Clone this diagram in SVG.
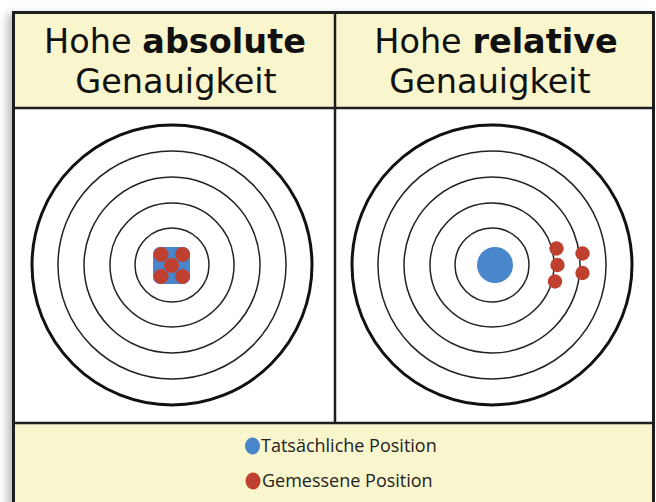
<svg xmlns="http://www.w3.org/2000/svg" width="656" height="502" viewBox="0 0 656 502">
<style>
.bg{fill:#ffffff}
.pale{fill:#f9f6cd}
.frame{fill:none;stroke:#1e1e1e;stroke-width:3}
.div{stroke:#1e1e1e;stroke-width:2.5}
.ring{fill:none;stroke:#222;stroke-width:1.5}
.outer{fill:none;stroke:#111;stroke-width:3}
.red{fill:#c0402f}
.blue{fill:#4a86cc}
.h{font-family:"DejaVu Sans","Open Sans",sans-serif;font-size:33.5px;fill:#111;text-anchor:middle}
.b{font-weight:bold}
.leg{font-family:"Open Sans","Noto Sans",sans-serif;font-size:18px;fill:#222}
</style>
<defs>
<filter id="sh" x="-5%" y="-5%" width="110%" height="110%"><feGaussianBlur stdDeviation="4"/></filter>
</defs>
<rect width="656" height="502" fill="#ffffff"/>
<rect x="7" y="14" width="640" height="500" fill="#000" opacity="0.25" filter="url(#sh)"/>
<g id="header-left">
<rect x="13" y="12" width="322" height="96" class="pale"/>
<text x="175" y="53" class="h">Hohe <tspan class="b">absolute</tspan></text>
<text x="176" y="93" class="h">Genauigkeit</text>
</g>
<g id="header-right">
<rect x="335" y="12" width="320" height="96" class="pale"/>
<text x="496" y="53" class="h">Hohe <tspan class="b">relative</tspan></text>
<text x="490" y="93" class="h">Genauigkeit</text>
</g>
<g id="target-left">
<rect x="13" y="108" width="322" height="315" class="bg"/>
<circle cx="172" cy="265" r="140" class="outer"/>
<circle cx="172" cy="265" r="114" class="ring"/>
<circle cx="172" cy="265" r="88" class="ring"/>
<circle cx="172" cy="265" r="62" class="ring"/>
<circle cx="172" cy="265" r="37" class="ring"/>
<rect x="153" y="247" width="37" height="37" rx="7" class="blue"/>
<circle cx="161" cy="254.5" r="7.5" class="red"/>
<circle cx="182.5" cy="254.5" r="7.5" class="red"/>
<circle cx="171.5" cy="265.5" r="7.5" class="red"/>
<circle cx="161" cy="276.5" r="7.5" class="red"/>
<circle cx="182.5" cy="276.5" r="7.5" class="red"/>
</g>
<g id="target-right">
<rect x="335" y="108" width="320" height="315" class="bg"/>
<circle cx="492" cy="265" r="140" class="outer"/>
<circle cx="492" cy="265" r="114" class="ring"/>
<circle cx="492" cy="265" r="88" class="ring"/>
<circle cx="492" cy="265" r="62" class="ring"/>
<circle cx="492" cy="265" r="37" class="ring"/>
<circle cx="495" cy="265" r="18" class="blue"/>
<circle cx="556.5" cy="248.5" r="7.2" class="red"/>
<circle cx="557.5" cy="265" r="7.2" class="red"/>
<circle cx="555" cy="281.5" r="7.2" class="red"/>
<circle cx="582.5" cy="253.5" r="7.2" class="red"/>
<circle cx="582.5" cy="273" r="7.2" class="red"/>
</g>
<g id="legend">
<rect x="13" y="423" width="642" height="90" class="pale"/>
<ellipse cx="252.5" cy="446" rx="7.5" ry="8.5" class="blue"/>
<text x="261" y="452" class="leg">Tatsächliche Position</text>
<ellipse cx="253" cy="481" rx="7.5" ry="8.5" class="red"/>
<text x="262" y="487" class="leg">Gemessene Position</text>
</g>
<g id="connectors">
<line x1="335" y1="12" x2="335" y2="423" class="div"/>
<line x1="13" y1="108" x2="655" y2="108" class="div"/>
<line x1="13" y1="423" x2="655" y2="423" class="div"/>
</g>
<rect x="13.5" y="12.5" width="640" height="500" class="frame"/>
</svg>
